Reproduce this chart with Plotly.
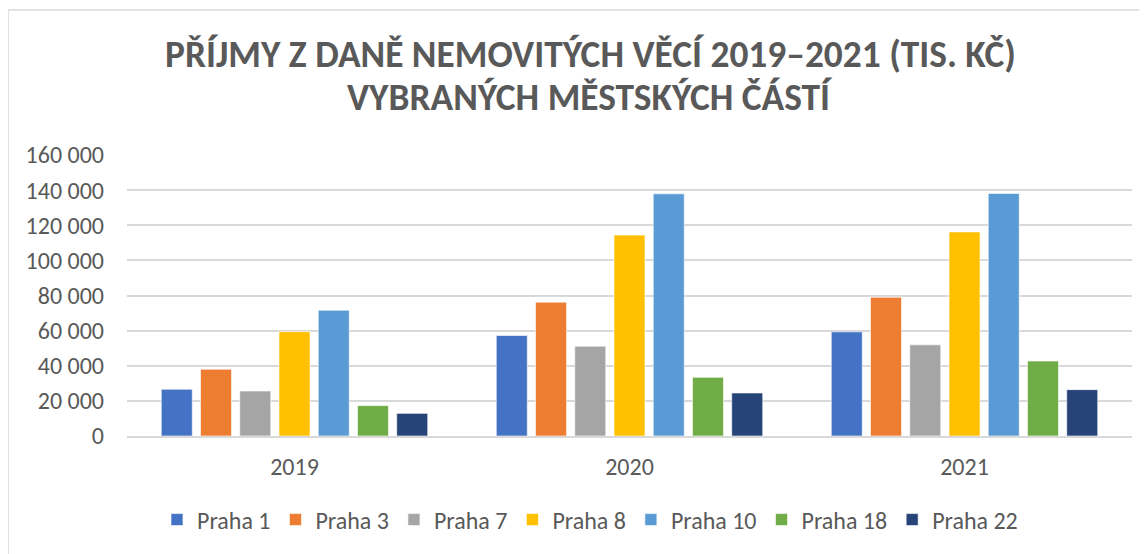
import plotly.graph_objects as go

years = ["2019", "2020", "2021"]
districts = ["Praha 1", "Praha 3", "Praha 7", "Praha 8", "Praha 10", "Praha 18", "Praha 22"]
praha1 = [26600, 57200, 59300]
praha3 = [38000, 76200, 79000]
praha7 = [25600, 51100, 51900]
praha8 = [59400, 114400, 116200]
praha10 = [71600, 137900, 138100]
praha18 = [17300, 33400, 42700]
praha22 = [12900, 24500, 26400]
values = [praha1, praha3, praha7, praha8, praha10, praha18, praha22]
colors = ["#4472C4", "#ED7D31", "#A5A5A5", "#FFC000", "#5B9BD5", "#70AD47", "#264478"]
y_ticks = [0, 20000, 40000, 60000, 80000, 100000, 120000, 140000, 160000]
title_lines = ["PŘÍJMY Z DANĚ NEMOVITÝCH VĚCÍ 2019–2021 (TIS. KČ)", "VYBRANÝCH MĚSTSKÝCH ČÁSTÍ"]

FONT = "Carlito, Liberation Sans Narrow, Arial Narrow, sans-serif"
GREY = "#595959"

# page body has an 8px margin; figure is sized/offset to compensate
OFF = 8
fig = go.Figure()
for name, vals, col in zip(districts, values, colors):
    fig.add_trace(go.Bar(
        x=years, y=vals, name=name,
        marker=dict(color=col, line=dict(color="rgba(255,255,255,0.6)", width=1)),
    ))

PLOT_L, PLOT_R, PLOT_T, PLOT_B = 127, 1132, 155, 436
PH = float(PLOT_B - PLOT_T)
PW = float(PLOT_R - PLOT_L)
CENTER_X = 590

annotations = []
for line, ypix in zip(title_lines, [54, 97]):
    annotations.append(dict(
        text="<b>" + line + "</b>", xref="paper", yref="paper",
        x=(CENTER_X - PLOT_L) / PW, y=(PLOT_B - ypix) / PH,
        xanchor="center", yanchor="middle", showarrow=False,
        font=dict(family=FONT, size=37.4, color=GREY),
    ))

fig.update_layout(
    width=1147 - OFF, height=554 - OFF,
    barmode="group", bargap=0.18, bargroupgap=0.21,
    plot_bgcolor="white", paper_bgcolor="white",
    separators=", ",
    margin=dict(l=PLOT_L - OFF, r=1147 - PLOT_R, t=PLOT_T - OFF, b=554 - PLOT_B, pad=0),
    font=dict(family=FONT, size=24, color=GREY),
    annotations=annotations,
    xaxis=dict(showgrid=False, showline=True, linecolor="#D9D9D9", linewidth=1.5,
               tickfont=dict(size=24, color=GREY), ticks="", ticklabelstandoff=8),
    yaxis=dict(range=[0, 160000], tickvals=y_ticks, tickformat=",d",
               showgrid=True, gridcolor="#D9D9D9", gridwidth=1.5, zeroline=False,
               tickfont=dict(size=24, color=GREY), ticklabelstandoff=22),
    legend=dict(orientation="h", x=(CENTER_X - PLOT_L) / PW, xanchor="center",
                y=(PLOT_B - 520) / PH, yanchor="middle",
                font=dict(size=24, color=GREY), itemwidth=30, traceorder="normal"),
    shapes=[dict(type="rect", xref="paper", yref="paper",
                 x0=(8 - PLOT_L) / PW, x1=1.1, y0=-0.6, y1=(PLOT_B - 10) / PH,
                 line=dict(color="#D9D9D9", width=1.5), fillcolor="rgba(0,0,0,0)", layer="below")],
)

fig.write_html("out.html")
